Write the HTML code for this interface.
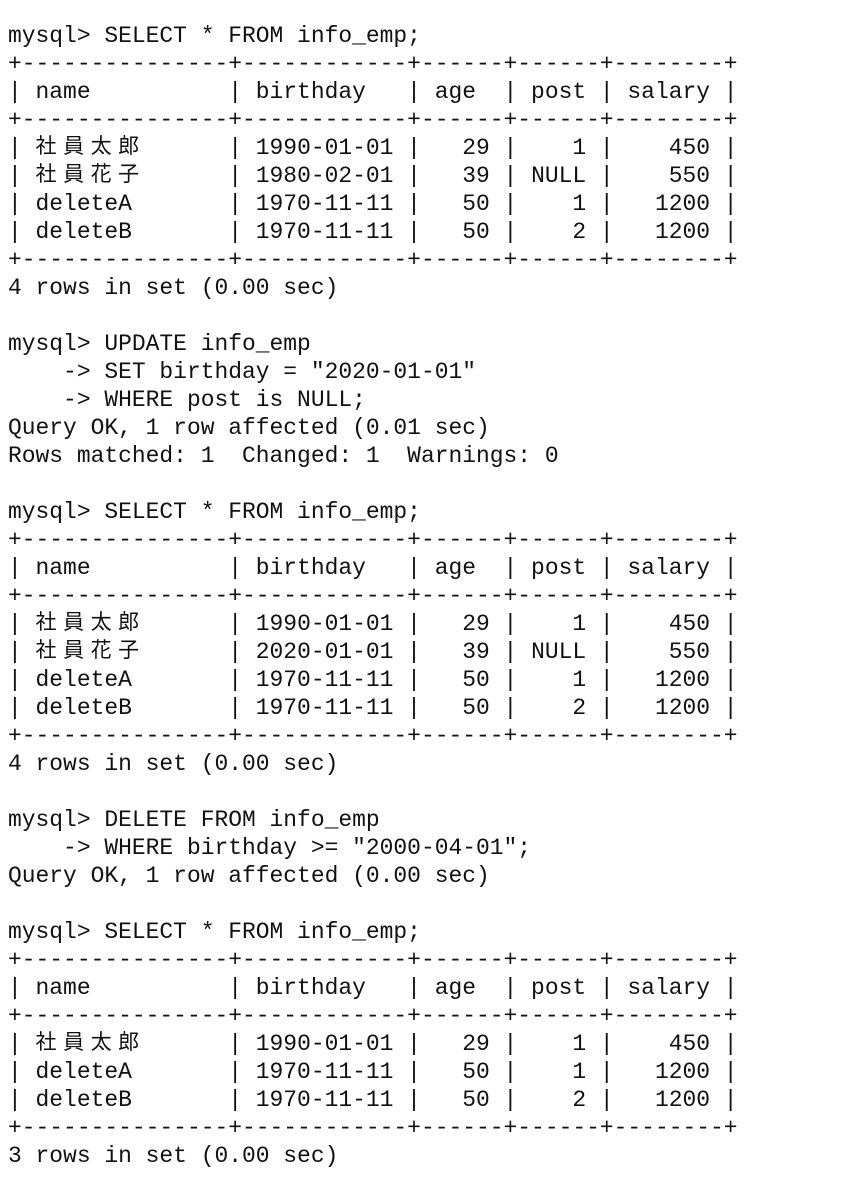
<!DOCTYPE html>
<html><head><meta charset="utf-8"><style>
html,body{margin:0;padding:0;background:#fff;width:860px;height:1194px;overflow:hidden}
pre{margin:0;padding:22px 0 0 8px;font-family:"Liberation Mono","Noto Sans CJK JP",monospace;font-size:22.95px;line-height:28px;color:#111;letter-spacing:0}
.j{display:inline-block;width:27.54px;height:28px;line-height:30px;vertical-align:top;overflow:hidden;text-align:left;font-size:21px}
</style></head><body><pre>mysql&gt; SELECT * FROM info_emp;
+---------------+------------+------+------+--------+
| name          | birthday   | age  | post | salary |
+---------------+------------+------+------+--------+
| <span class="j">社</span><span class="j">員</span><span class="j">太</span><span class="j">郎</span>      | 1990-01-01 |   29 |    1 |    450 |
| <span class="j">社</span><span class="j">員</span><span class="j">花</span><span class="j">子</span>      | 1980-02-01 |   39 | NULL |    550 |
| deleteA       | 1970-11-11 |   50 |    1 |   1200 |
| deleteB       | 1970-11-11 |   50 |    2 |   1200 |
+---------------+------------+------+------+--------+
4 rows in set (0.00 sec)

mysql&gt; UPDATE info_emp
    -&gt; SET birthday = "2020-01-01"
    -&gt; WHERE post is NULL;
Query OK, 1 row affected (0.01 sec)
Rows matched: 1  Changed: 1  Warnings: 0

mysql&gt; SELECT * FROM info_emp;
+---------------+------------+------+------+--------+
| name          | birthday   | age  | post | salary |
+---------------+------------+------+------+--------+
| <span class="j">社</span><span class="j">員</span><span class="j">太</span><span class="j">郎</span>      | 1990-01-01 |   29 |    1 |    450 |
| <span class="j">社</span><span class="j">員</span><span class="j">花</span><span class="j">子</span>      | 2020-01-01 |   39 | NULL |    550 |
| deleteA       | 1970-11-11 |   50 |    1 |   1200 |
| deleteB       | 1970-11-11 |   50 |    2 |   1200 |
+---------------+------------+------+------+--------+
4 rows in set (0.00 sec)

mysql&gt; DELETE FROM info_emp
    -&gt; WHERE birthday &gt;= "2000-04-01";
Query OK, 1 row affected (0.00 sec)

mysql&gt; SELECT * FROM info_emp;
+---------------+------------+------+------+--------+
| name          | birthday   | age  | post | salary |
+---------------+------------+------+------+--------+
| <span class="j">社</span><span class="j">員</span><span class="j">太</span><span class="j">郎</span>      | 1990-01-01 |   29 |    1 |    450 |
| deleteA       | 1970-11-11 |   50 |    1 |   1200 |
| deleteB       | 1970-11-11 |   50 |    2 |   1200 |
+---------------+------------+------+------+--------+
3 rows in set (0.00 sec)</pre></body></html>
